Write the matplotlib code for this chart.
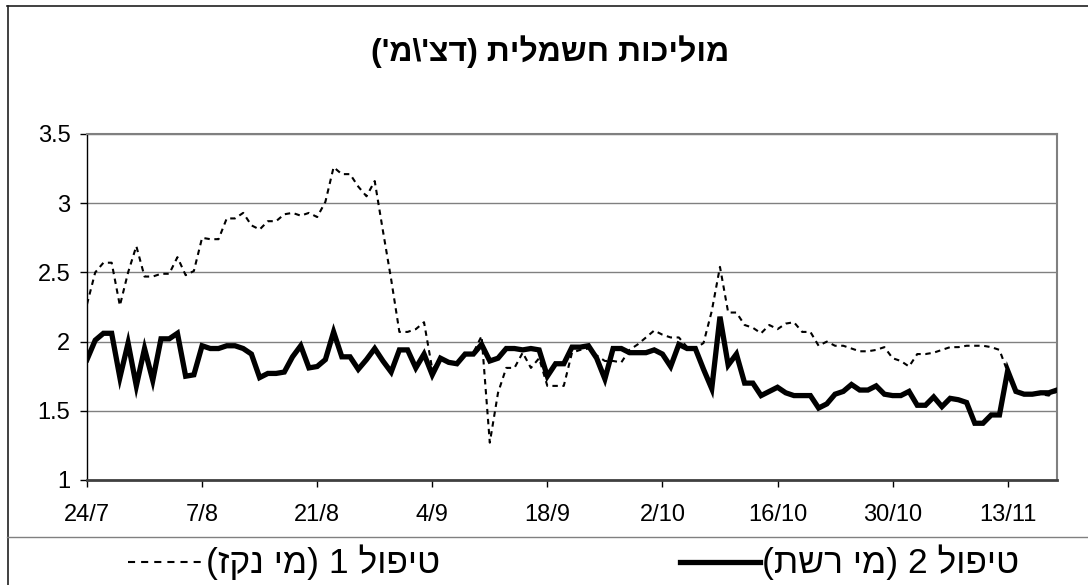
import numpy as np
import pandas as pd
import matplotlib
matplotlib.use("Agg")
import matplotlib.pyplot as plt
from matplotlib.lines import Line2D

plt.rcParams['font.family'] = ['Liberation Sans', 'DejaVu Sans']

title = "מוליכות חשמלית (דצ'\\מ')"
label_1 = "טיפול 1 (מי נקז)"
label_2 = "טיפול 2 (מי רשת)"

start_date = "2005-07-24"
tick_labels = ['24/7', '7/8', '21/8', '4/9', '18/9', '2/10', '16/10', '30/10', '13/11']
y_ticks = [1, 1.5, 2, 2.5, 3, 3.5]
y_tick_labels = ['1', '1.5', '2', '2.5', '3', '3.5']

# treatment 1 (drainage water), daily
treat_1 = [2.27, 2.50, 2.57, 2.57, 2.26, 2.50, 2.69, 2.47, 2.47, 2.49,
           2.49, 2.61, 2.48, 2.51, 2.75, 2.74, 2.74, 2.89, 2.89, 2.93,
           2.84, 2.81, 2.87, 2.87, 2.92, 2.93, 2.91, 2.93, 2.90, 3.01,
           3.26, 3.21, 3.21, 3.12, 3.05, 3.16, 2.80, 2.45, 2.07, 2.07,
           2.09, 2.14, 1.80, 1.87, 1.85, 1.85, 1.90, 1.92, 2.04, 1.27,
           1.63, 1.81, 1.81, 1.92, 1.81, 1.88, 1.68, 1.68, 1.68, 1.92,
           1.94, 1.95, 1.90, 1.86, 1.86, 1.85, 1.94, 1.98, 2.03, 2.08,
           2.05, 2.03, 2.03, 1.96, 1.95, 1.99, 2.22, 2.54, 2.21, 2.21,
           2.12, 2.10, 2.06, 2.12, 2.09, 2.13, 2.14, 2.07, 2.07, 1.97,
           2.00, 1.97, 1.97, 1.95, 1.93, 1.93, 1.94, 1.96, 1.88, 1.86,
           1.82, 1.91, 1.91, 1.92, 1.94, 1.96, 1.96, 1.97, 1.97, 1.97,
           1.96, 1.94, 1.78, 1.64, 1.62, 1.62, 1.62, 1.61, 1.64]

# treatment 2 (tap water), daily
treat_2 = [1.87, 2.01, 2.06, 2.06, 1.74, 1.99, 1.68, 1.95, 1.72, 2.02,
           2.02, 2.06, 1.75, 1.76, 1.97, 1.95, 1.95, 1.97, 1.97, 1.95,
           1.91, 1.74, 1.77, 1.77, 1.78, 1.89, 1.97, 1.81, 1.82, 1.87,
           2.07, 1.89, 1.89, 1.80, 1.87, 1.95, 1.86, 1.78, 1.94, 1.94,
           1.81, 1.91, 1.76, 1.88, 1.85, 1.84, 1.91, 1.91, 1.98, 1.86,
           1.88, 1.95, 1.95, 1.94, 1.95, 1.94, 1.75, 1.84, 1.84, 1.96,
           1.96, 1.97, 1.88, 1.73, 1.95, 1.95, 1.92, 1.92, 1.92, 1.94,
           1.91, 1.82, 1.98, 1.95, 1.95, 1.80, 1.66, 2.18, 1.83, 1.91,
           1.70, 1.70, 1.61, 1.64, 1.67, 1.63, 1.61, 1.61, 1.61, 1.52,
           1.55, 1.62, 1.64, 1.69, 1.65, 1.65, 1.68, 1.62, 1.61, 1.61,
           1.64, 1.54, 1.54, 1.60, 1.53, 1.59, 1.58, 1.56, 1.41, 1.41,
           1.47, 1.47, 1.79, 1.64, 1.62, 1.62, 1.63, 1.63, 1.65]


def rtl(text):
    # matplotlib has no bidi support: lay the hebrew out visually
    mirror = {'(': ')', ')': '('}
    return "".join(mirror.get(c, c) for c in reversed(text))


W, H = 1088, 585
dates = pd.date_range(start_date, periods=len(treat_1), freq='D')
tick_dates = pd.date_range(start_date, periods=len(tick_labels), freq='14D')

fig = plt.figure(figsize=(W / 100, H / 100), dpi=100)
ax = fig.add_axes([87 / W, 1 - 480 / H, (1057 - 87) / W, (480 - 134) / H])

style_1 = dict(color='black', lw=1.5, dashes=(2.6, 2.2))
style_2 = dict(color='black', lw=3.8, solid_joinstyle='miter')
ax.plot(dates, treat_1, **style_1, zorder=3)
ax.plot(dates, treat_2, **style_2, zorder=4)

ax.set_xlim(dates[0], dates[-1])
ax.set_ylim(1, 3.5)
ax.set_yticks(y_ticks)
ax.set_yticklabels(y_tick_labels)
ax.set_xticks(tick_dates)
ax.set_xticklabels(tick_labels)
ax.yaxis.grid(True, color='#808080', lw=1)
ax.set_axisbelow(True)

ax.tick_params(axis='both', labelsize=17, colors='black', length=5, width=1)
ax.tick_params(axis='y', pad=7)
ax.tick_params(axis='x', pad=12)

for side in ('top', 'right'):
    ax.spines[side].set_color('#808080')
    ax.spines[side].set_linewidth(1.5)
ax.spines['left'].set_color('black')
ax.spines['left'].set_linewidth(1)
ax.spines['bottom'].set_color('#404040')
ax.spines['bottom'].set_linewidth(2)

fig.text(550 / W, 1 - 52 / H, rtl(title), ha='center', va='center',
         fontsize=23, fontweight='bold')

# outer chart frame and legend separator
fig.add_artist(Line2D([7.5 / W, 7.5 / W], [1 - 6 / H, 0], color='#202020', lw=1.2))
fig.add_artist(Line2D([7 / W, 1], [1 - 6 / H, 1 - 6 / H], color='#202020', lw=1.2))
fig.add_artist(Line2D([7 / W, 1], [1 - 537 / H, 1 - 537 / H], color='#808080', lw=1))

# legend
ly = 1 - 562 / H
fig.add_artist(Line2D([128 / W, 203 / W], [ly, ly], color='black', lw=1.5,
                      dashes=(3.4, 2.9)))
fig.text(206 / W, ly, rtl(label_1), ha='left', va='center', fontsize=25.5)
fig.add_artist(Line2D([680 / W, 760 / W], [ly, ly], **style_2))
fig.text(762 / W, ly, rtl(label_2), ha='left', va='center', fontsize=25.5)

fig.savefig("out.png", dpi=100)
